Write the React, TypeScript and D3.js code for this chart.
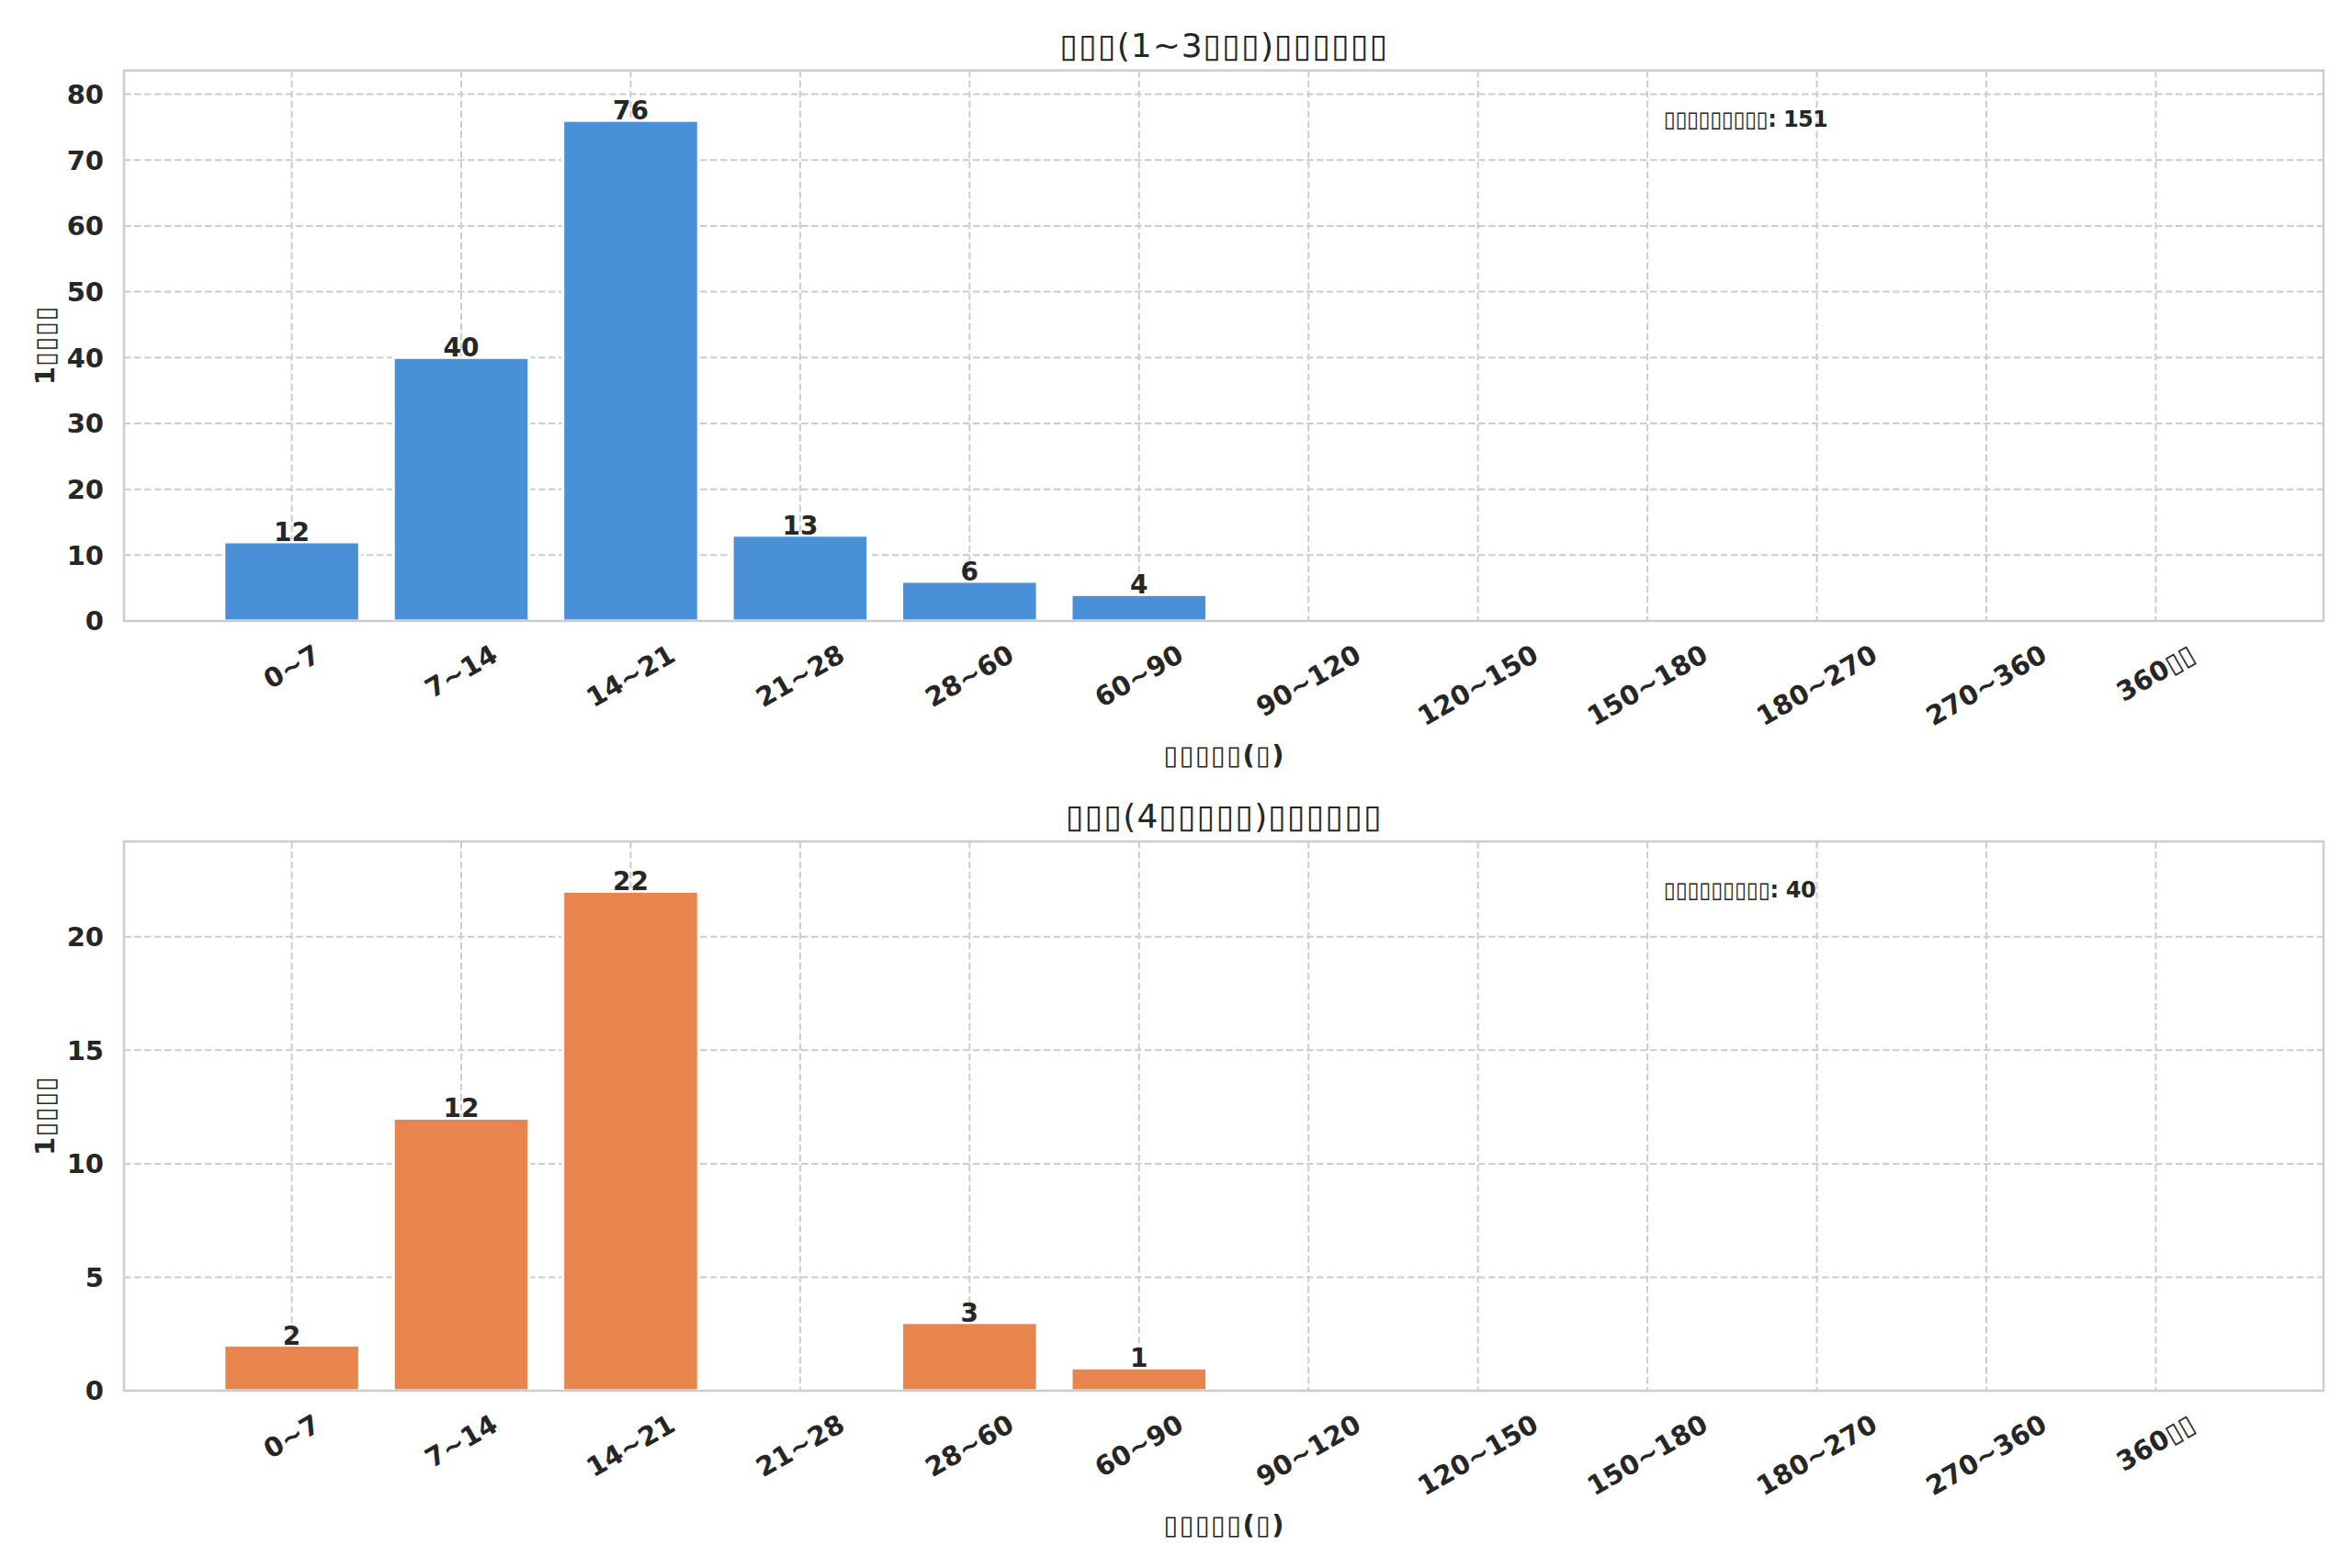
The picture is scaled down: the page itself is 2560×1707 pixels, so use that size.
import { useEffect, useRef } from "react";
import * as d3 from "d3";

const WIDTH = 2560;
const HEIGHT = 1707;

// tofu boxes in the reference are kept as U+25AF
const categories = [
  "0~7",
  "7~14",
  "14~21",
  "21~28",
  "28~60",
  "60~90",
  "90~120",
  "120~150",
  "150~180",
  "180~270",
  "270~360",
  "360▯▯",
];
const shortValues = [12, 40, 76, 13, 6, 4, 0, 0, 0, 0, 0, 0];
const longValues = [2, 12, 22, 0, 3, 1, 0, 0, 0, 0, 0, 0];
const shortTicks = [0, 10, 20, 30, 40, 50, 60, 70, 80];
const longTicks = [0, 5, 10, 15, 20];
const titles = ["▯▯▯(1~3▯▯▯)▯▯▯▯▯▯", "▯▯▯(4▯▯▯▯▯)▯▯▯▯▯▯"];
const titleWidths = [357, 344];
const totals = ["▯▯▯▯▯▯▯▯▯: 151", "▯▯▯▯▯▯▯▯▯: 40"];
const totalWidths = [179, 166];
const colors = ["#4a90d9", "#e8854d"];
const xLabel = "▯▯▯▯▯(▯)";
const yLabel = "1▯▯▯▯";

const FONT = "'DejaVu Sans', sans-serif";
const TEXT = "#262626";
const GRID = "#cccccc";

type TextSel = d3.Selection<SVGTextElement, unknown, null, undefined>;

// split a label into runs so the missing-glyph boxes render thin like the original
function setTofuText(sel: TextSel, str: string, width?: number) {
  const runs = str.match(/▯+|[^▯]+/g) ?? [];
  runs.forEach((r) => {
    const t = sel.append("tspan").text(r);
    if (r[0] === "▯") t.attr("font-weight", "normal");
  });
  if (width) sel.attr("textLength", width).attr("lengthAdjust", "spacing");
}

export default function App() {
  const svgRef = useRef<SVGSVGElement | null>(null);

  useEffect(() => {
    document.body.style.margin = "0";
    const svgEl = svgRef.current;
    if (!svgEl) return;
    svgEl.innerHTML = "";
    const svg = d3.select(svgEl);
    svg.append("rect").attr("width", WIDTH).attr("height", HEIGHT).attr("fill", "#fff");

    const left = 135;
    const right = 2529;
    const panels = [
      { top: 76.7, bottom: 676, values: shortValues, ticks: shortTicks },
      { top: 916, bottom: 1514, values: longValues, ticks: longTicks },
    ];

    panels.forEach((p, i) => {
      const g = svg.append("g");
      const x = d3
        .scaleLinear()
        .domain([-0.99, categories.length - 1 + 0.99])
        .range([left, right]);
      const y = d3
        .scaleLinear()
        .domain([0, d3.max(p.values)! * 1.1])
        .range([p.bottom, p.top]);

      // grid
      g.selectAll(".hgrid")
        .data(p.ticks)
        .join("line")
        .attr("x1", left)
        .attr("x2", right)
        .attr("y1", (d) => y(d))
        .attr("y2", (d) => y(d))
        .attr("stroke", GRID)
        .attr("stroke-width", 2)
        .attr("stroke-dasharray", "7.5,3.5");
      g.selectAll(".vgrid")
        .data(categories)
        .join("line")
        .attr("x1", (_, j) => x(j))
        .attr("x2", (_, j) => x(j))
        .attr("y1", p.top)
        .attr("y2", p.bottom)
        .attr("stroke", GRID)
        .attr("stroke-width", 2)
        .attr("stroke-dasharray", "7.5,3.5");

      // bars
      const bw = x(0.4) - x(-0.4);
      g.selectAll(".bar")
        .data(p.values)
        .join("rect")
        .attr("x", (_, j) => x(j) - bw / 2)
        .attr("y", (d) => y(d))
        .attr("width", bw)
        .attr("height", (d) => p.bottom - y(d))
        .attr("fill", colors[i])
        .attr("stroke", "#fff")
        .attr("stroke-width", 3);

      // spines
      g.append("rect")
        .attr("x", left)
        .attr("y", p.top)
        .attr("width", right - left)
        .attr("height", p.bottom - p.top)
        .attr("fill", "none")
        .attr("stroke", GRID)
        .attr("stroke-width", 2.5);

      // bar value labels
      g.selectAll(".val")
        .data(p.values.map((v, j) => ({ v, j })).filter((d) => d.v > 0))
        .join("text")
        .attr("x", (d) => x(d.j))
        .attr("y", (d) => y(d.v) - 1)
        .attr("text-anchor", "middle")
        .attr("font-family", FONT)
        .attr("font-weight", "bold")
        .attr("font-size", 28)
        .attr("fill", TEXT)
        .text((d) => d.v);

      // y ticks
      g.selectAll(".ytick")
        .data(p.ticks)
        .join("text")
        .attr("x", left - 22)
        .attr("y", (d) => y(d))
        .attr("dy", "0.36em")
        .attr("text-anchor", "end")
        .attr("font-family", FONT)
        .attr("font-weight", "bold")
        .attr("font-size", 29)
        .attr("fill", TEXT)
        .text((d) => d);

      // x ticks, rotated 30deg, bbox centred under the tick
      const xt = g
        .selectAll<SVGTextElement, string>(".xtick")
        .data(categories)
        .join("text")
        .attr("text-anchor", "middle")
        .attr("dominant-baseline", "central")
        .attr("font-family", FONT)
        .attr("font-weight", "bold")
        .attr("font-size", 29)
        .attr("fill", TEXT);
      xt.each(function (d, j) {
        const s = d3.select(this) as TextSel;
        setTofuText(s, d);
        const w = this.getComputedTextLength();
        const h = 29 * 1.17;
        const bh = w * 0.5 + h * Math.cos(Math.PI / 6);
        const cx = x(j);
        const cy = p.bottom + 19 + bh / 2;
        s.attr("x", cx)
          .attr("y", cy)
          .attr("transform", `rotate(-30,${cx},${cy})`);
      });

      // title
      const title = g
        .append("text")
        .attr("x", (left + right) / 2)
        .attr("y", p.top - 15)
        .attr("text-anchor", "middle")
        .attr("font-family", FONT)
        .attr("font-size", 36)
        .attr("fill", TEXT);
      setTofuText(title, titles[i], titleWidths[i]);

      // axis labels
      const xl = g
        .append("text")
        .attr("x", (left + right) / 2)
        .attr("y", p.bottom + 156)
        .attr("text-anchor", "middle")
        .attr("font-family", FONT)
        .attr("font-weight", "bold")
        .attr("font-size", 29)
        .attr("fill", TEXT);
      setTofuText(xl, xLabel, 131);
      const yc = (p.top + p.bottom) / 2;
      const yl = g
        .append("text")
        .attr("x", 49)
        .attr("y", yc)
        .attr("dy", "0.36em")
        .attr("text-anchor", "middle")
        .attr("transform", `rotate(-90,49,${yc})`)
        .attr("font-family", FONT)
        .attr("font-weight", "bold")
        .attr("font-size", 29)
        .attr("fill", TEXT);
      setTofuText(yl, yLabel, 86);

      // total annotation
      const tot = g
        .append("text")
        .attr("x", left + 0.7 * (right - left))
        .attr("y", p.top + 0.05 * (p.bottom - p.top) + 31)
        .attr("font-family", FONT)
        .attr("font-weight", "bold")
        .attr("font-size", 24)
        .attr("fill", TEXT);
      setTofuText(tot, totals[i], totalWidths[i]);
    });
  }, []);

  return (
    <svg
      ref={svgRef}
      width={WIDTH}
      height={HEIGHT}
      viewBox={`0 0 ${WIDTH} ${HEIGHT}`}
      style={{ display: "block" }}
    />
  );
}
